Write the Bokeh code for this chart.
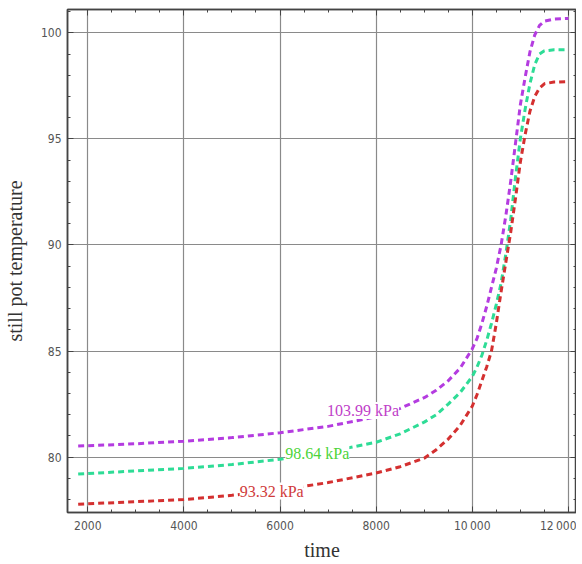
from bokeh.plotting import figure
from bokeh.models import (LinearAxis, SingleIntervalTicker, Label, Range1d, CustomJSTickFormatter)
from bokeh.embed import file_html
from bokeh.resources import INLINE

time = [1800, 3000, 4000, 5000, 6000, 7000, 8000, 8500, 9000, 9250, 9500, 9750, 10000,
        10100, 10200, 10300, 10400, 10500, 10600, 10700, 10800, 10900, 11000, 11100,
        11200, 11300, 11400, 11500, 11700, 12000]
temp_103 = [80.52, 80.63, 80.75, 80.92, 81.15, 81.45, 81.9, 82.3, 82.8, 83.15, 83.6, 84.2, 85.1,
            85.6, 86.3, 87.1, 88.0, 88.9, 90.0, 91.4, 93.0, 94.8, 96.6, 97.9,
            99.1, 99.9, 100.35, 100.55, 100.65, 100.68]
temp_98 = [79.2, 79.35, 79.47, 79.65, 79.9, 80.25, 80.7, 81.1, 81.65, 82.0, 82.5, 83.05, 83.8,
           84.25, 84.8, 85.5, 86.3, 87.2, 88.2, 89.6, 91.2, 93.2, 95.0, 96.4,
           97.6, 98.5, 99.0, 99.15, 99.2, 99.2]
temp_93 = [77.78, 77.9, 78.0, 78.2, 78.45, 78.8, 79.25, 79.55, 79.95, 80.35, 80.85, 81.5, 82.4,
           82.95, 83.6, 84.25, 85.0, 86.3, 87.8, 89.2, 90.6, 92.2, 93.9, 95.2,
           96.3, 97.0, 97.4, 97.6, 97.68, 97.7]
labels = ["103.99 kPa", "98.64 kPa", "93.32 kPa"]
label_pos = [(6980, 82.2), (6110, 80.15), (5160, 78.4)]
x_overrides = {10000: "10\u2009000", 12000: "12\u2009000"}

X0, X1, Y0, Y1 = 1578, 12169, 77.39, 101.1
line_colors = ["#b43ce0", "#2edc96", "#d43030"]
text_colors = ["#c040c8", "#4cd43a", "#d03a3a"]

p = figure(width=576, height=563, output_backend="svg", toolbar_location=None,
           x_range=Range1d(X0, X1), y_range=Range1d(Y0, Y1),
           min_border_left=10, min_border_right=0, min_border_top=9, min_border_bottom=0)

p.background_fill_color = "white"
p.outline_line_color = "#444444"
p.outline_line_width = 1.5

series = [temp_103, temp_98, temp_93]
for ys, c in zip(series, line_colors):
    p.line(time, ys, line_color=c, line_width=3, line_dash="6 4")

for txt, (lx, ly), c in zip(labels, label_pos, text_colors):
    p.add_layout(Label(x=lx, y=ly, text=txt, text_color=c, text_font="Liberation Serif",
                       text_font_size="16px", text_baseline="middle", text_align="left",
                       background_fill_color="white", background_fill_alpha=1.0))

xt = SingleIntervalTicker(interval=2000, num_minor_ticks=4)
yt = SingleIntervalTicker(interval=5, num_minor_ticks=5)

bottom = p.xaxis[0]
left = p.yaxis[0]
bottom.ticker = xt
bottom.major_label_overrides = x_overrides
left.ticker = yt

p.grid[0].ticker = xt
p.grid[1].ticker = yt
for g in p.grid:
    g.grid_line_color = "#8a8a8a"
    g.grid_line_width = 1.2
    g.grid_line_alpha = 1.0

blank = CustomJSTickFormatter(code="return '';")
top = LinearAxis(ticker=xt, formatter=blank, major_label_standoff=0)
right = LinearAxis(ticker=yt, formatter=blank, major_label_standoff=0)
p.add_layout(top, "above")
p.add_layout(right, "right")

for ax in [bottom, left, top, right]:
    ax.axis_line_color = "#444444"
    ax.axis_line_width = 1.5
    ax.major_tick_in = 6
    ax.major_tick_out = 0
    ax.minor_tick_in = 3
    ax.minor_tick_out = 0
    ax.major_tick_line_color = "#444444"
    ax.minor_tick_line_color = "#444444"
    ax.major_label_text_color = "#555555"
    ax.major_label_text_font = "DejaVu Sans Condensed"
    ax.major_label_text_font_size = "12px"

bottom.axis_label = "time"
left.axis_label = "still pot temperature"
for ax in (bottom, left):
    ax.axis_label_text_font = "Liberation Serif"
    ax.axis_label_text_font_style = "normal"
    ax.axis_label_text_font_size = "20px"
    ax.axis_label_text_color = "#333333"
bottom.major_label_standoff = 6
bottom.axis_label_standoff = 3
left.major_label_standoff = 6
left.axis_label_standoff = 12

open("out.html", "w").write(file_html(p, INLINE))
